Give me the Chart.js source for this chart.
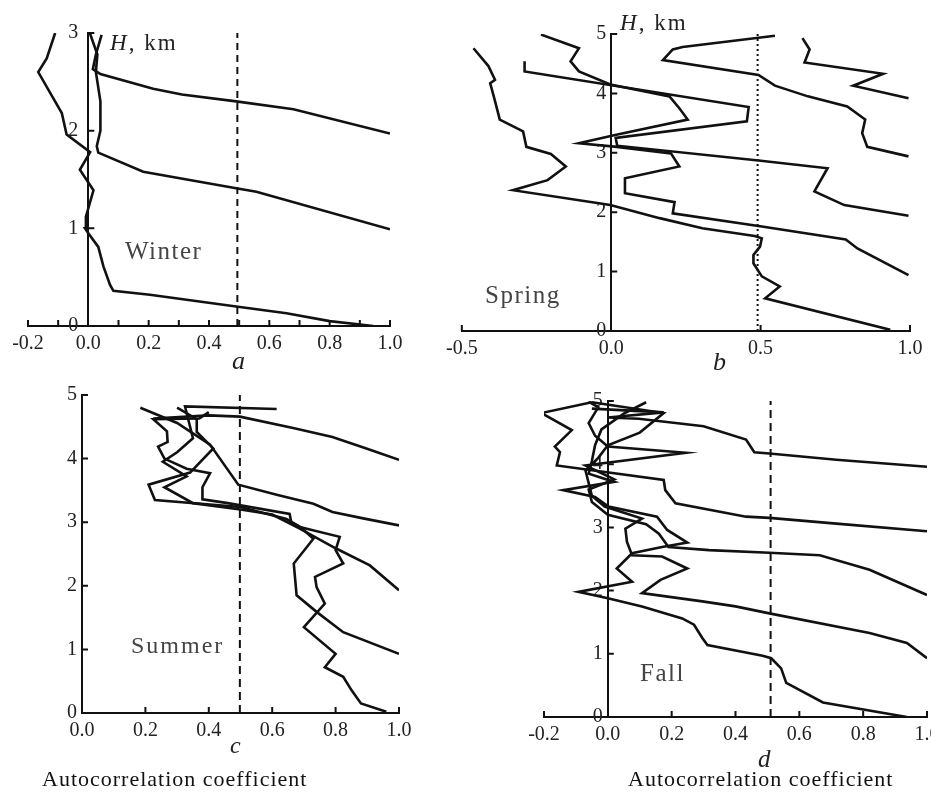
<!DOCTYPE html>
<html>
<head>
<meta charset="utf-8">
<script src="https://cdn.jsdelivr.net/npm/chart.js@4.4.1/dist/chart.umd.min.js"></script>
<style>
  html, body { margin: 0; padding: 0; background: #fff; overflow: hidden; }
  body { width: 931px; height: 793px; position: relative; font-family: "Liberation Serif", "Times New Roman", serif; color: #222; }
  canvas { position: absolute; }
  .label { position: absolute; white-space: nowrap; line-height: 1; }
  .season { font-size: 25px; letter-spacing: 1.5px; color: #444; }
  .unit { font-size: 23px; letter-spacing: 2px; color: #222; }
  .panel { font-size: 26px; font-style: italic; color: #222; }
  .axis_title { font-size: 22px; letter-spacing: 1px; color: #111; }
</style>
</head>
<body>
<canvas id="chart_a" width="440" height="375" style="left:0;top:0;width:440px;height:375px"></canvas>
<canvas id="chart_b" width="491" height="375" style="left:440px;top:0;width:491px;height:375px"></canvas>
<canvas id="chart_c" width="440" height="418" style="left:0;top:375px;width:440px;height:418px"></canvas>
<canvas id="chart_d" width="490" height="418" style="left:470px;top:375px;width:490px;height:418px"></canvas>

<div class="label unit" style="left:110px;top:31px"><i>H</i>, km</div>
<div class="label season" style="left:125px;top:238px">Winter</div>
<div class="label panel" style="left:232px;top:348px">a</div>

<div class="label unit" style="left:620px;top:11px"><i>H</i>, km</div>
<div class="label season" style="left:485px;top:282px">Spring</div>
<div class="label panel" style="left:713px;top:349px">b</div>

<div class="label season" style="left:131px;top:633px;font-size:24px;letter-spacing:2px">Summer</div>
<div class="label panel" style="left:230px;top:733px;font-size:24px">c</div>
<div class="label axis_title" style="left:42px;top:768px">Autocorrelation coefficient</div>

<div class="label season" style="left:640px;top:660px">Fall</div>
<div class="label panel" style="left:758px;top:746px;font-size:25px">d</div>
<div class="label axis_title" style="left:628px;top:768px">Autocorrelation coefficient</div>

<script>
// profiles: [autocorrelation, H km]
const winter_1 = [[1.0, 1.97], [0.68, 2.22], [0.49, 2.30], [0.31, 2.37], [0.215, 2.43], [0.04, 2.58], [0.015, 2.63], [0.025, 2.78], [0.044, 2.98]];
const winter_2 = [[1.0, 0.99], [0.557, 1.375], [0.49, 1.41], [0.182, 1.58], [0.033, 1.775], [0.028, 1.84], [0.04, 2.0], [0.04, 2.3], [0.025, 2.6], [0.03, 2.78], [0.005, 3.0]];
const winter_3 = [[0.944, 0], [0.80, 0.05], [0.657, 0.13], [0.49, 0.20], [0.204, 0.32], [0.083, 0.36], [0.072, 0.42], [0.05, 0.61], [0.033, 0.81], [0.0, 0.95], [-0.011, 1.0], [-0.008, 1.12], [0.017, 1.39], [-0.028, 1.60], [0.006, 1.78], [-0.072, 1.96], [-0.088, 2.18], [-0.116, 2.33], [-0.166, 2.60], [-0.138, 2.74], [-0.11, 3.0]];

const spring_1 = [[0.934, 0.02], [0.515, 0.55], [0.564, 0.75], [0.504, 0.92], [0.476, 1.14], [0.476, 1.28], [0.498, 1.42], [0.504, 1.56], [0.48, 1.6], [0.305, 1.73], [0.162, 1.9], [-0.003, 2.12], [-0.329, 2.37], [-0.213, 2.54], [-0.152, 2.77], [-0.202, 2.98], [-0.284, 3.1], [-0.295, 3.36], [-0.373, 3.56], [-0.39, 3.89], [-0.405, 4.17], [-0.389, 4.23], [-0.411, 4.46], [-0.461, 4.76]];
const spring_2 = [[0.995, 0.94], [0.824, 1.39], [0.785, 1.54], [0.504, 1.76], [0.206, 1.98], [0.212, 2.17], [0.046, 2.32], [0.046, 2.57], [0.228, 2.77], [0.2, 2.99], [0.019, 3.1], [-0.108, 3.16], [0.013, 3.3], [0.256, 3.56], [0.228, 3.75], [0.195, 3.95], [-0.003, 4.15], [-0.108, 4.37], [-0.136, 4.54], [-0.108, 4.76], [-0.235, 4.99]];
const spring_3 = [[0.995, 1.94], [0.78, 2.12], [0.68, 2.35], [0.724, 2.74], [0.493, 2.87], [0.02, 3.12], [0.015, 3.25], [0.454, 3.53], [0.46, 3.77], [-0.29, 4.37], [-0.29, 4.54]];
const spring_4 = [[0.995, 2.94], [0.857, 3.1], [0.84, 3.33], [0.85, 3.56], [0.79, 3.78], [0.658, 3.95], [0.548, 4.13], [0.493, 4.31], [0.173, 4.56], [0.206, 4.74], [0.239, 4.78], [0.548, 4.97]];
const spring_5 = [[0.995, 3.92], [0.81, 4.13], [0.91, 4.33], [0.647, 4.52], [0.664, 4.74], [0.64, 4.93]];

const summer_1 = [[0.96, 0.02], [0.88, 0.15], [0.85, 0.36], [0.824, 0.57], [0.766, 0.72], [0.80, 0.93], [0.70, 1.35], [0.766, 1.72], [0.74, 1.98], [0.735, 2.14], [0.824, 2.35], [0.80, 2.56], [0.813, 2.77], [0.69, 2.92], [0.66, 3.0], [0.655, 3.13], [0.46, 3.3], [0.38, 3.36], [0.38, 3.55], [0.404, 3.77], [0.33, 3.84], [0.26, 4.0], [0.24, 4.19], [0.27, 4.26], [0.268, 4.43], [0.225, 4.62], [0.37, 4.63], [0.40, 4.73]];
const summer_2 = [[1.0, 0.93], [0.824, 1.27], [0.74, 1.59], [0.677, 1.85], [0.668, 2.35], [0.73, 2.74], [0.69, 2.92], [0.645, 3.05], [0.50, 3.24], [0.23, 3.35], [0.21, 3.59], [0.341, 3.78], [0.414, 4.16], [0.362, 4.42], [0.362, 4.62], [0.3, 4.8]];
const summer_3 = [[1.0, 1.93], [0.908, 2.32], [0.80, 2.59], [0.687, 2.9], [0.6, 3.12], [0.5, 3.2], [0.35, 3.3], [0.26, 3.55], [0.33, 3.72], [0.255, 3.95], [0.30, 4.1], [0.35, 4.32], [0.325, 4.82], [0.614, 4.78]];
const summer_4 = [[1.0, 2.95], [0.887, 3.06], [0.79, 3.16], [0.73, 3.29], [0.614, 3.43], [0.493, 3.59], [0.404, 4.22], [0.30, 4.56], [0.184, 4.80]];
const summer_5 = [[1.0, 3.98], [0.897, 4.16], [0.79, 4.34], [0.666, 4.48], [0.498, 4.66], [0.40, 4.68], [0.225, 4.63]];

const fall_1 = [[0.937, 0], [0.674, 0.23], [0.559, 0.54], [0.543, 0.77], [0.512, 0.93], [0.485, 0.97], [0.312, 1.14], [0.296, 1.25], [0.27, 1.46], [0.233, 1.56], [0.107, 1.75], [0.0, 1.88], [-0.092, 1.98], [0.076, 2.14], [0.028, 2.35], [0.076, 2.59], [0.17, 2.69], [0.249, 2.76], [0.186, 2.96], [0.154, 3.17], [0.002, 3.33], [-0.04, 3.48], [-0.14, 3.59], [0.02, 3.72], [-0.06, 3.85], [-0.05, 4.05], [-0.04, 4.3], [-0.02, 4.55], [0.05, 4.8], [0.12, 4.98]];
const fall_2 = [[1.0, 0.93], [0.937, 1.17], [0.82, 1.33], [0.506, 1.64], [0.4, 1.75], [0.296, 1.83], [0.107, 1.96], [0.165, 2.17], [0.249, 2.35], [0.17, 2.54], [0.076, 2.56], [0.06, 2.77], [0.055, 2.98], [0.107, 3.14], [-0.01, 3.33], [-0.05, 3.5], [-0.06, 3.7], [-0.07, 3.9], [-0.03, 4.1], [0.0, 4.3], [0.1, 4.5], [0.175, 4.81], [-0.05, 4.98]];
const fall_3 = [[1.0, 1.93], [0.82, 2.33], [0.664, 2.56], [0.506, 2.6], [0.317, 2.64], [0.19, 2.69], [0.16, 2.9], [0.12, 3.05], [0.0, 3.2], [-0.05, 3.4], [-0.06, 3.6], [0.02, 3.76], [-0.07, 3.98], [0.244, 4.18], [0.0, 4.28], [-0.04, 4.45], [-0.06, 4.65], [-0.03, 4.9], [-0.06, 4.99]];
const fall_4 = [[1.0, 2.94], [0.716, 3.06], [0.506, 3.15], [0.433, 3.17], [0.212, 3.38], [0.18, 3.59], [0.175, 3.75], [-0.16, 3.98], [-0.15, 4.19], [-0.166, 4.28], [-0.113, 4.54], [-0.208, 4.81], [-0.05, 4.98]];
const fall_5 = [[1.0, 3.96], [0.716, 4.07], [0.506, 4.17], [0.459, 4.19], [0.433, 4.39], [0.30, 4.6], [0.097, 4.72], [0.0, 4.74], [0.175, 4.82], [-0.05, 4.88]];

// 0.5 reference line for each season
const marker_a = 0.494;
const marker_b = 0.49;
const marker_c = 0.498;
const marker_d = 0.51;

Chart.defaults.font.family = "'Liberation Serif', 'Times New Roman', serif";
Chart.defaults.color = "#222";

const inward_ticks = {
  id: "inward_ticks",
  afterDatasetsDraw(chart) {
    const { ctx, scales: { x, y } } = chart;
    const x0 = x.getPixelForValue(0);
    const y0 = y.getPixelForValue(0);
    ctx.save();
    ctx.strokeStyle = "#111";
    ctx.lineWidth = 2;
    ctx.beginPath();
    x.ticks.forEach((t) => {
      if (Math.abs(t.value) < 1e-9) return;
      const px = x.getPixelForValue(t.value);
      ctx.moveTo(px, y0);
      ctx.lineTo(px, y0 - 6);
    });
    y.ticks.forEach((t) => {
      if (Math.abs(t.value) < 1e-9) return;
      const py = y.getPixelForValue(t.value);
      ctx.moveTo(x0, py);
      ctx.lineTo(x0 + 6, py);
    });
    ctx.stroke();
    ctx.restore();
  },
};

function fmt_x(v, every_other) {
  if (Math.abs(v) < 1e-9) return "0.0";
  if (every_other && Math.round(v * 10) % 2 !== 0) return "";
  return v.toFixed(1);
}

function draw_panel(canvas_id, curves, marker_x, marker_dash, axes) {
  const datasets = curves.map((pairs) => ({
    data: pairs.map(([x, y]) => ({ x, y })),
    showLine: true,
    borderColor: "#111",
    borderWidth: 2.6,
    pointRadius: 0,
    tension: 0,
  }));
  datasets.push({
    data: [{ x: marker_x, y: 0 }, { x: marker_x, y: axes.y_max }],
    showLine: true,
    borderColor: "#111",
    borderWidth: 2,
    borderDash: marker_dash,
    pointRadius: 0,
  });

  return new Chart(document.getElementById(canvas_id), {
    type: "scatter",
    data: { datasets },
    options: {
      responsive: false,
      animation: false,
      events: [],
      layout: { padding: axes.padding },
      plugins: { legend: { display: false }, tooltip: { enabled: false } },
      scales: {
        x: {
          type: "linear",
          min: axes.x_min,
          max: 1.0,
          position: { y: 0 },
          grid: { display: false, drawTicks: false },
          border: { color: "#111", width: 2 },
          ticks: {
            stepSize: axes.x_step,
            autoSkip: false,
            maxRotation: 0,
            padding: 6,
            font: { size: 20 },
            callback: (v) => fmt_x(v, axes.x_every),
          },
        },
        y: {
          type: "linear",
          min: 0,
          max: axes.y_max,
          position: { x: 0 },
          grid: { display: false, drawTicks: false },
          border: { color: "#111", width: 2 },
          ticks: {
            stepSize: 1,
            autoSkip: false,
            font: { size: 20 },
            // custom-positioned axis draws labels flush with the line, so pad with spaces
            callback: (v) => String(v) + axes.y_gap,
          },
        },
      },
    },
    plugins: [inward_ticks],
  });
}

draw_panel("chart_a", [winter_1, winter_2, winter_3], marker_a, [7, 5], {
  x_min: -0.2, x_step: 0.1, x_every: true, y_max: 3, y_gap: "  ",
  padding: { left: 28, right: 50, top: 33, bottom: 49 },
});
draw_panel("chart_b", [spring_1, spring_2, spring_3, spring_4, spring_5], marker_b, [2, 3], {
  x_min: -0.5, x_step: 0.5, y_max: 5, y_gap: " ",
  padding: { left: 17, right: 21, top: 34, bottom: 44 },
});
draw_panel("chart_c", [summer_1, summer_2, summer_3, summer_4, summer_5], marker_c, [8, 5], {
  x_min: 0, x_step: 0.2, y_max: 5, y_gap: " ",
  padding: { left: 82, right: 41, top: 20, bottom: 80 },
});
draw_panel("chart_d", [fall_1, fall_2, fall_3, fall_4, fall_5], marker_d, [8, 5], {
  x_min: -0.2, x_step: 0.2, y_max: 5, y_gap: " ",
  padding: { left: 74, right: 33, top: 26, bottom: 76 },
});
</script>
</body>
</html>
